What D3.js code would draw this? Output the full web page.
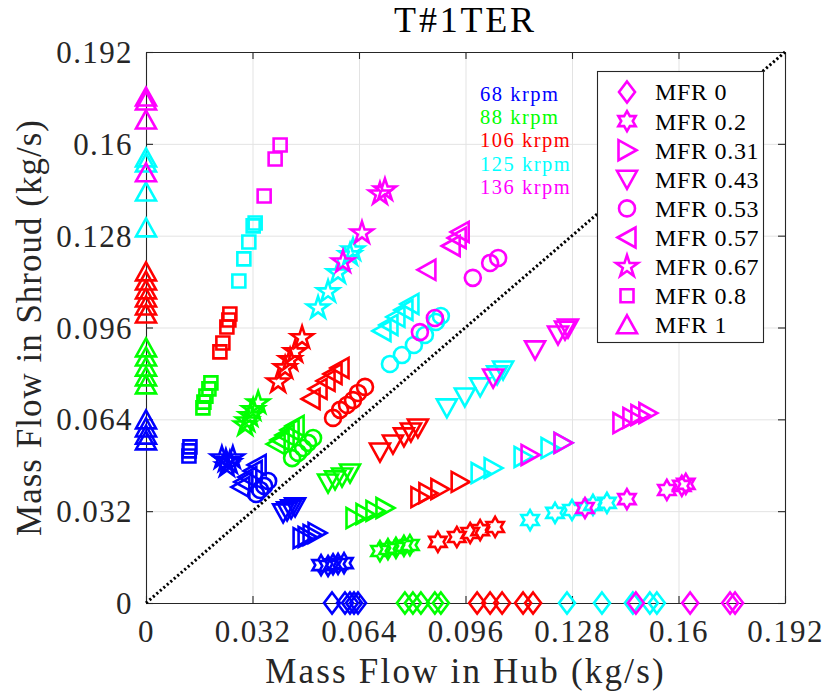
<!DOCTYPE html>
<html>
<head>
<meta charset="utf-8">
<script src="https://cdn.jsdelivr.net/npm/d3@7"></script>
<style>
  html, body { margin: 0; padding: 0; background: #ffffff; }
  svg { display: block; }
  svg text { font-family: "Liberation Serif", "DejaVu Serif", serif; }
</style>
</head>
<body>
<svg id="chart" width="824" height="694"></svg>
<script>
// ---- data: mass flow split between hub and shroud (kg/s) ----
const speedLabels = ["68 krpm", "88 krpm", "106 krpm", "125 krpm", "136 krpm"];
const speedColors = ["#0000ff", "#00ff00", "#ff0000", "#00ffff", "#ff00ff"];
const mfrLabels = ["MFR 0", "MFR 0.2", "MFR 0.31", "MFR 0.43", "MFR 0.53", "MFR 0.57", "MFR 0.67", "MFR 0.8", "MFR 1"];
const tickValues = [0, 0.032, 0.064, 0.096, 0.128, 0.16, 0.192];
const tickLabels = ["0", "0.032", "0.064", "0.096", "0.128", "0.16", "0.192"];

// one row per MFR level, in the order of mfrLabels
const hub68 = [
  [0.0559, 0.0598, 0.0613, 0.0625, 0.0637],
  [0.0526, 0.0547, 0.0562, 0.0577, 0.0595],
  [0.0469, 0.0484, 0.0499, 0.0514],
  [0.0412, 0.0424, 0.0436, 0.0448],
  [0.0367, 0.0355, 0.0343, 0.0331],
  [0.0334, 0.0322, 0.0306, 0.0294, 0.0285],
  [0.0228, 0.0240, 0.0252, 0.0261, 0.0243],
  [0.0132, 0.0130, 0.0129],
  [0, 0, 0, 0]
];
const shroud68 = [
  [0, 0, 0, 0, 0],
  [0.0132, 0.0129, 0.0135, 0.0136, 0.0139],
  [0.0226, 0.0230, 0.0237, 0.0244],
  [0.0314, 0.0321, 0.0328, 0.0335],
  [0.0425, 0.0408, 0.0394, 0.0380],
  [0.0481, 0.0460, 0.0439, 0.0422, 0.0404],
  [0.0505, 0.0495, 0.0488, 0.0505, 0.0477],
  [0.0544, 0.0530, 0.0512],
  [0.0638, 0.0610, 0.0585, 0.0565]
];
const hub88 = [
  [0.0778, 0.0802, 0.0826, 0.0868, 0.0886],
  [0.0703, 0.0727, 0.0751, 0.0775, 0.0793],
  [0.0628, 0.0658, 0.0688, 0.0718],
  [0.0547, 0.0568, 0.0589, 0.0613],
  [0.0502, 0.0487, 0.0472, 0.0457, 0.0439],
  [0.0448, 0.0433, 0.0418, 0.0403, 0.0391],
  [0.0337, 0.0322, 0.0313, 0.0304, 0.0298],
  [0.0195, 0.0189, 0.0180, 0.0174, 0.0171],
  [0, 0, 0, 0, 0]
];
const shroud88 = [
  [0, 0, 0, 0, 0],
  [0.0181, 0.0188, 0.0192, 0.0199, 0.0202],
  [0.0296, 0.0310, 0.0321, 0.0331],
  [0.0418, 0.0429, 0.0439, 0.0453],
  [0.0575, 0.0558, 0.0540, 0.0523, 0.0505],
  [0.0617, 0.0603, 0.0585, 0.0568, 0.0554],
  [0.0697, 0.0673, 0.0652, 0.0634, 0.0620],
  [0.0767, 0.0746, 0.0721, 0.0700, 0.0680],
  [0.0889, 0.0857, 0.0822, 0.0788, 0.0760]
];
const hub106 = [
  [0.0995, 0.1034, 0.1070, 0.1133, 0.1163],
  [0.0877, 0.0934, 0.0974, 0.1004, 0.1049],
  [0.0823, 0.0847, 0.0883, 0.0944],
  [0.0703, 0.0742, 0.0775, 0.0796, 0.0817],
  [0.0658, 0.0637, 0.0622, 0.0604, 0.0583, 0.0562],
  [0.0583, 0.0562, 0.0541, 0.0517, 0.0496],
  [0.0469, 0.0448, 0.0433, 0.0418, 0.0397],
  [0.0252, 0.0249, 0.0243, 0.0231, 0.0222],
  [0, 0, 0, 0, 0, 0]
];
const shroud106 = [
  [0, 0, 0, 0, 0],
  [0.0213, 0.0230, 0.0244, 0.0254, 0.0265],
  [0.0369, 0.0383, 0.0397, 0.0422],
  [0.0526, 0.0554, 0.0579, 0.0596, 0.0610],
  [0.0753, 0.0732, 0.0707, 0.0690, 0.0673, 0.0645],
  [0.0819, 0.0798, 0.0774, 0.0746, 0.0711],
  [0.0924, 0.0875, 0.0847, 0.0819, 0.0770],
  [0.1007, 0.0986, 0.0962, 0.0906, 0.0875],
  [0.1154, 0.1122, 0.1091, 0.1063, 0.1035, 0.1007]
];
const hub125 = [
  [0.1265, 0.1370, 0.1463, 0.1514, 0.1535],
  [0.1154, 0.1229, 0.1280, 0.1343, 0.1385],
  [0.1004, 0.1043, 0.1133, 0.1214, 0.1253],
  [0.0904, 0.0958, 0.1004, 0.1055, 0.1073],
  [0.0733, 0.0769, 0.0805, 0.0838, 0.0871, 0.0886],
  [0.0793, 0.0775, 0.0751, 0.0730, 0.0709],
  [0.0622, 0.0613, 0.0577, 0.0547, 0.0517],
  [0.0328, 0.0322, 0.0309, 0.0294, 0.0279],
  [0, 0, 0, 0]
];
const shroud125 = [
  [0, 0, 0, 0, 0],
  [0.0289, 0.0314, 0.0324, 0.0342, 0.0349],
  [0.0453, 0.0470, 0.0509, 0.0540, 0.0558],
  [0.0680, 0.0718, 0.0753, 0.0795, 0.0812],
  [0.0833, 0.0864, 0.0899, 0.0934, 0.0979, 0.1000],
  [0.1042, 0.1021, 0.0997, 0.0969, 0.0948],
  [0.1230, 0.1213, 0.1150, 0.1084, 0.1028],
  [0.1324, 0.1314, 0.1258, 0.1199, 0.1122],
  [0.1551, 0.1533, 0.1432, 0.1307]
];
const hub136 = [
  [0.1472, 0.1635, 0.1755, 0.1770],
  [0.1319, 0.1445, 0.1565, 0.1610, 0.1622],
  [0.1154, 0.1253, 0.1430, 0.1460, 0.1484, 0.1508],
  [0.1043, 0.1169, 0.1238, 0.1259, 0.1268],
  [0.0823, 0.0868, 0.0982, 0.1034, 0.1058],
  [0.0844, 0.0917, 0.0935, 0.0944],
  [0.0592, 0.0649, 0.0703, 0.0718],
  [0.0355, 0.0388, 0.0403],
  [0, 0, 0, 0]
];
const shroud136 = [
  [0, 0, 0, 0],
  [0.0331, 0.0362, 0.0394, 0.0408, 0.0415],
  [0.0516, 0.0558, 0.0627, 0.0645, 0.0655, 0.0662],
  [0.0784, 0.0882, 0.0934, 0.0951, 0.0958],
  [0.0944, 0.0993, 0.1133, 0.1185, 0.1202],
  [0.1161, 0.1244, 0.1272, 0.1293],
  [0.1188, 0.1289, 0.1425, 0.1439],
  [0.1418, 0.1547, 0.1596],
  [0.1763, 0.1749, 0.1683, 0.1499]
];

const hubBySpeed = [hub68, hub88, hub106, hub125, hub136];
const shroudBySpeed = [shroud68, shroud88, shroud106, shroud125, shroud136];

// ---- layout ----
const margin = { left: 146, right: 39, top: 52, bottom: 91 };
const W = 824, H = 694;
const x = d3.scaleLinear().domain([0, 0.192]).range([margin.left, W - margin.right]);
const y = d3.scaleLinear().domain([0, 0.192]).range([H - margin.bottom, margin.top]);
const axisColor = "#262626";

const svg = d3.select("#chart");

// ---- marker shapes (one per MFR level) ----
function poly(pts) { return "M" + pts.map(p => p[0].toFixed(2) + "," + p[1].toFixed(2)).join("L") + "Z"; }
function star(n, R, r) {
  const pts = [];
  for (let i = 0; i < 2 * n; i++) {
    const a = -Math.PI / 2 + i * Math.PI / n;
    const rad = i % 2 === 0 ? R : r;
    pts.push([rad * Math.cos(a), rad * Math.sin(a)]);
  }
  return poly(pts);
}
const markerPaths = [
  poly([[0, -10.5], [8, 0], [0, 10.5], [-8, 0]]),                 // diamond
  star(6, 10, 10 / Math.sqrt(3)),                                  // hexagram
  poly([[9.5, 0], [-8.5, -10], [-8.5, 10]]),                       // triangle right
  poly([[0, 9.5], [10, -8.5], [-10, -8.5]]),                       // triangle down
  "M8,0A8,8 0 1,1 -8,0A8,8 0 1,1 8,0Z",                            // circle
  poly([[-9.5, 0], [8.5, -10], [8.5, 10]]),                        // triangle left
  star(5, 11.5, 11.5 * 0.382),                                     // pentagram
  poly([[-6.5, -6.5], [6.5, -6.5], [6.5, 6.5], [-6.5, 6.5]]),      // square
  poly([[0, -9.5], [10, 8.5], [-10, 8.5]])                         // triangle up
];

// ---- grid ----
const gridG = svg.append("g").attr("class", "grid");
gridG.append("g")
  .attr("transform", `translate(0,${y(0)})`)
  .call(d3.axisBottom(x).tickValues(tickValues).tickSize(-(y(0) - y(0.192))).tickFormat(""))
  .call(g => g.select(".domain").remove());
gridG.append("g")
  .attr("transform", `translate(${x(0)},0)`)
  .call(d3.axisLeft(y).tickValues(tickValues).tickSize(-(x(0.192) - x(0))).tickFormat(""))
  .call(g => g.select(".domain").remove());
gridG.selectAll("line").attr("stroke", "#e3e3e3").attr("stroke-width", 1);

// ---- axes (box with inward ticks) ----
const tickLen = 7;
const axB = svg.append("g").attr("transform", `translate(0,${y(0)})`)
  .call(d3.axisBottom(x).tickValues(tickValues).tickSizeInner(-tickLen).tickSizeOuter(0)
    .tickPadding(17).tickFormat((d, i) => tickLabels[i]));
const axL = svg.append("g").attr("transform", `translate(${x(0)},0)`)
  .call(d3.axisLeft(y).tickValues(tickValues).tickSizeInner(-tickLen).tickSizeOuter(0)
    .tickPadding(13).tickFormat((d, i) => tickLabels[i]));
const axT = svg.append("g").attr("transform", `translate(0,${y(0.192)})`)
  .call(d3.axisTop(x).tickValues(tickValues).tickSizeInner(-tickLen).tickSizeOuter(0).tickFormat(""));
const axR = svg.append("g").attr("transform", `translate(${x(0.192)},0)`)
  .call(d3.axisRight(y).tickValues(tickValues).tickSizeInner(-tickLen).tickSizeOuter(0).tickFormat(""));
[axB, axL, axT, axR].forEach(a => {
  a.attr("font-family", null);
  a.select(".domain").attr("stroke", axisColor).attr("stroke-width", 1.1);
  a.selectAll(".tick line").attr("stroke", axisColor).attr("stroke-width", 1.1);
});
axB.selectAll(".tick text")
  .attr("font-size", 31).attr("fill", axisColor)
  .attr("letter-spacing", 1.4).attr("dy", "0.72em");
axL.selectAll(".tick text")
  .attr("font-size", 31).attr("fill", axisColor)
  .attr("letter-spacing", 1.4).attr("dy", "0.34em");

// ---- reference diagonal ----
svg.append("line")
  .attr("x1", x(0)).attr("y1", y(0)).attr("x2", x(0.192)).attr("y2", y(0.192))
  .attr("stroke", "#000").attr("stroke-width", 3).attr("stroke-dasharray", "2.2,2.4");

// ---- markers ----
const markG = svg.append("g").attr("fill", "none").attr("stroke-width", 2.6).attr("stroke-linejoin", "miter");
speedLabels.forEach((s, si) => {
  mfrLabels.forEach((m, mi) => {
    const pts = hubBySpeed[si][mi].map((h, k) => [h, shroudBySpeed[si][mi][k]]);
    markG.selectAll(null).data(pts).enter().append("path")
      .attr("d", markerPaths[mi])
      .attr("transform", d => `translate(${x(d[0])},${y(d[1])})`)
      .attr("stroke", speedColors[si]);
  });
});

// ---- speed annotations ----
const annG = svg.append("g").attr("font-size", 20.5).attr("letter-spacing", 1.5);
speedLabels.forEach((s, i) => {
  annG.append("text").attr("x", 480).attr("y", 101 + i * 23.2).attr("fill", speedColors[i]).text(s);
});

// ---- legend ----
const legG = svg.append("g");
legG.append("rect").attr("x", 597.5).attr("y", 71.5).attr("width", 166).attr("height", 271)
  .attr("fill", "#ffffff").attr("stroke", axisColor).attr("stroke-width", 1.1);
mfrLabels.forEach((m, i) => {
  const cy = 92 + i * 29.1;
  legG.append("path").attr("d", markerPaths[i]).attr("transform", `translate(627,${cy})`)
    .attr("fill", "none").attr("stroke", "#ff00ff").attr("stroke-width", 2.6);
  legG.append("text").attr("x", 655).attr("y", cy).attr("dy", "0.35em")
    .attr("font-size", 24).attr("letter-spacing", 0.7).attr("fill", "#000")
    .text(m);
});

// ---- titles ----
svg.append("text").attr("x", (x(0) + x(0.192)) / 2).attr("y", 32).attr("text-anchor", "middle")
  .attr("font-size", 36).attr("letter-spacing", 2.8).attr("fill", "#000")
  .text("T#1TER");
svg.append("text").attr("x", (x(0) + x(0.192)) / 2).attr("y", 683).attr("text-anchor", "middle")
  .attr("font-size", 35).attr("letter-spacing", 2.2).attr("fill", axisColor)
  .text("Mass Flow in Hub (kg/s)");
svg.append("text")
  .attr("transform", `translate(41,${(y(0) + y(0.192)) / 2}) rotate(-90)`)
  .attr("text-anchor", "middle")
  .attr("font-size", 35).attr("letter-spacing", 1.0).attr("fill", axisColor)
  .text("Mass Flow in Shroud (kg/s)");
</script>
</body>
</html>
